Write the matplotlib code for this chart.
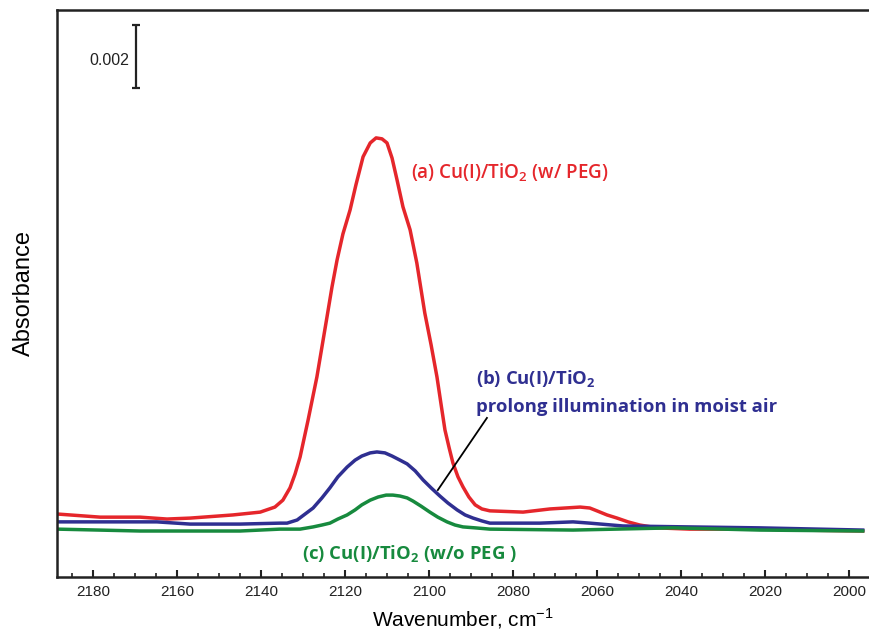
import numpy as np
import matplotlib.pyplot as plt
from matplotlib.ticker import MultipleLocator

# spectra (wavenumber cm-1, absorbance)
wn_a = [2188.6, 2178.3, 2168.8, 2162.4, 2156.9, 2146.7, 2140.2, 2136.7, 2134.8, 2133.1,
        2131.9, 2130.7, 2128.8, 2126.7, 2125.5, 2124.3, 2123.1, 2121.9, 2120.5, 2118.8,
        2117.4, 2115.7, 2114.0, 2112.6, 2111.2, 2110.0, 2108.8, 2107.6, 2106.2, 2104.5,
        2102.9, 2101.0, 2099.5, 2098.1, 2097.1, 2096.2, 2095.2, 2094.3, 2093.1, 2091.9,
        2090.5, 2089.0, 2087.4, 2085.5, 2077.6, 2071.2, 2067.6, 2064.0, 2061.7, 2060.0,
        2057.6, 2055.2, 2052.6, 2049.8, 2045.7, 2037.9, 2020.5, 2011.7, 1996.7]
abs_a = [0.00200, 0.00190, 0.00190, 0.00184, 0.00187, 0.00197, 0.00206, 0.00222, 0.00244, 0.00283,
         0.00327, 0.00381, 0.00498, 0.00635, 0.00730, 0.00825, 0.00921, 0.01006, 0.01089, 0.01165,
         0.01245, 0.01334, 0.01378, 0.01394, 0.01391, 0.01378, 0.01330, 0.01260, 0.01175, 0.01102,
         0.00997, 0.00838, 0.00737, 0.00635, 0.00546, 0.00467, 0.00410, 0.00362, 0.00318, 0.00286,
         0.00254, 0.00229, 0.00216, 0.00210, 0.00206, 0.00216, 0.00219, 0.00222, 0.00219, 0.00210,
         0.00197, 0.00187, 0.00175, 0.00165, 0.00156, 0.00152, 0.00152, 0.00149, 0.00146]

wn_b = [2188.6, 2164.8, 2156.9, 2145.0, 2135.5, 2133.8, 2131.4, 2129.5, 2127.6, 2125.5,
        2123.6, 2121.7, 2119.5, 2117.6, 2116.0, 2114.0, 2112.4, 2110.5, 2108.8, 2106.9,
        2105.2, 2103.3, 2101.4, 2099.5, 2097.4, 2095.5, 2093.3, 2091.4, 2089.5, 2087.4,
        2085.5, 2073.6, 2065.7, 2061.7, 2053.8, 2037.9, 2021.2, 1996.7]
abs_b = [0.00175, 0.00175, 0.00168, 0.00168, 0.00171, 0.00171, 0.00181, 0.00200, 0.00219, 0.00251,
         0.00283, 0.00318, 0.00349, 0.00371, 0.00384, 0.00394, 0.00397, 0.00394, 0.00384, 0.00371,
         0.00359, 0.00337, 0.00308, 0.00283, 0.00257, 0.00235, 0.00213, 0.00197, 0.00187, 0.00178,
         0.00171, 0.00171, 0.00175, 0.00171, 0.00162, 0.00159, 0.00156, 0.00149]

wn_c = [2188.6, 2168.8, 2145.0, 2135.5, 2130.7, 2127.6, 2125.5, 2123.6, 2121.7, 2119.5,
        2117.6, 2116.0, 2114.0, 2112.1, 2110.2, 2108.6, 2106.9, 2105.2, 2103.8, 2101.9,
        2099.8, 2097.9, 2095.7, 2093.8, 2091.9, 2089.0, 2085.5, 2065.7, 2041.9, 2021.2,
        1996.7]
abs_c = [0.00152, 0.00146, 0.00146, 0.00152, 0.00152, 0.00159, 0.00165, 0.00171, 0.00184, 0.00197,
         0.00213, 0.00229, 0.00244, 0.00254, 0.00260, 0.00260, 0.00257, 0.00251, 0.00241, 0.00225,
         0.00206, 0.00190, 0.00175, 0.00165, 0.00159, 0.00156, 0.00152, 0.00149, 0.00156, 0.00149,
         0.00146]

scale_bar = 0.002

c_red = '#e5262b'
c_blue = '#2f2f91'
c_green = '#178a3e'

fig = plt.figure(figsize=(8.69, 6.31), dpi=100)
ax = fig.add_axes([57 / 869, 54 / 631, 812 / 869, 567 / 631])

ax.plot(wn_a, abs_a, color=c_red, lw=2.5, solid_joinstyle='round')
ax.plot(wn_b, abs_b, color=c_blue, lw=2.5, solid_joinstyle='round')
ax.plot(wn_c, abs_c, color=c_green, lw=2.5, solid_joinstyle='round')

ax.set_xlim(2188.6, 1995.2)
ax.set_ylim(0, 0.0180)

ax.xaxis.set_major_locator(MultipleLocator(20))
ax.xaxis.set_minor_locator(MultipleLocator(5))
ax.tick_params(axis='x', which='major', direction='in', length=5, width=1.5,
               labelsize=11, pad=6, colors='#222222')
ax.tick_params(axis='x', which='minor', direction='in', length=3, width=1.2, colors='#222222')
ax.set_yticks([])
for lab in ax.get_xticklabels():
    lab.set_fontfamily('Liberation Sans')

for s in ['left', 'top', 'bottom']:
    ax.spines[s].set_linewidth(1.8)
    ax.spines[s].set_color('#222222')
ax.spines['right'].set_visible(False)

ax.set_xlabel('Wavenumber, cm$^{\\mathregular{-1}}$', fontsize=15, family='Liberation Sans',
              labelpad=5)
ax.set_ylabel('Absorbance', fontsize=17, family='Liberation Sans', labelpad=16)

# scale bar
ax.errorbar([2169.8], [0.01552 + scale_bar / 2], yerr=scale_bar / 2, color='#222222',
            elinewidth=1.6, capsize=3, capthick=1.6)
ax.text(2171.4, 0.01641, '0.002', fontsize=11.5, family='Liberation Sans',
        ha='right', va='center', color='#222222')

# labels
ax.text(2104.2, 0.01282, '(a) Cu(I)/TiO$_\\mathregular{2}$ (w/ PEG)', color=c_red,
        fontsize=13.6, family='Open Sans', fontweight='semibold', va='center')
ax.text(2088.8, 0.00630, '(b) Cu(I)/TiO$_\\mathregular{2}$', color=c_blue,
        fontsize=13.3, family='Open Sans', fontweight='bold', va='center')
ax.text(2088.8, 0.00540, 'prolong illumination in moist air', color=c_blue,
        fontsize=13.3, family='Open Sans', fontweight='bold', va='center')
ax.text(2130.2, 0.00076, '(c) Cu(I)/TiO$_\\mathregular{2}$ (w/o PEG )', color=c_green,
        fontsize=13.3, family='Open Sans', fontweight='bold', va='center')

# leader line to curve (b)
ax.plot([2097.9, 2086.2], [0.00276, 0.00505], color='black', lw=1.3)

fig.savefig('out.png', dpi=100)
